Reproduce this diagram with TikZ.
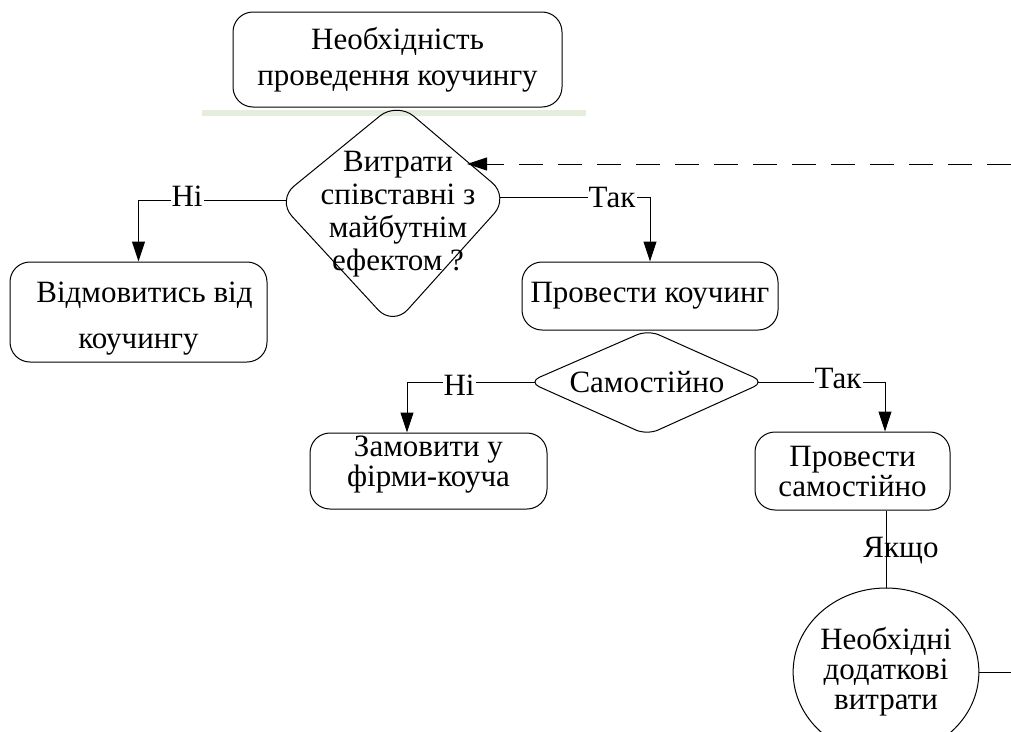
\documentclass[tikz,border=0pt]{standalone}
\usepackage{fontspec}
\setmainfont{Liberation Serif}
\usetikzlibrary{arrows.meta,shapes.geometric}
\definecolor{sepgreen}{HTML}{E5EDDD}
\tikzset{
    terminal/.style = {rectangle, rounded corners=20pt, draw=black, line width=1pt, inner sep=0pt, align=center, font=\fontsize{31}{36}\selectfont},
    costs/.style = {ellipse, draw=black, line width=1pt, inner sep=0pt, align=center, font=\fontsize{31}{36}\selectfont},
    decision/.style = {draw=black, line width=1pt},
    textonly/.style = {inner sep=0pt, align=center, font=\fontsize{31}{36}\selectfont},
    answer/.style = {fill=white, inner sep=1pt, font=\fontsize{31}{36}\selectfont},
    line/.style = {line width=1pt},
    arrow/.style = {line width=1pt, -{Triangle[length=20pt, width=13pt]}}
}

\begin{document}
\begin{tikzpicture}[x=1pt, y=-1pt]
\useasboundingbox (0,0) rectangle (1011,731);
\clip (0,0) rectangle (1011,731);

\fill [sepgreen] (202,110) rectangle (586,116);

% boxes
\node (need) [terminal, minimum width=329pt, minimum height=95pt] at (397.5,59.5) {Необхідність\\проведення коучингу};
\node (refuse) [terminal, minimum width=257pt, minimum height=100pt] at (138.5,312) {\rule{0pt}{34pt}\hspace{12pt}Відмовитись від\\[10pt]коучингу};
\node (coach) [terminal, minimum width=256pt, minimum height=68pt] at (650,296) {Провести коучинг};
\node (order) [terminal, minimum width=237pt, minimum height=76pt] at (428.5,471) {Замовити у\\[-6pt]фірми-коуча\rule[-19pt]{0pt}{0pt}};
\node (selfrun) [terminal, minimum width=195pt, minimum height=78pt] at (852.5,471) {Провести\\[-6pt]самостійно};
\node (extra) [costs, minimum width=163pt, minimum height=168pt] at (886,672) {Необхідні\\[-6pt]додаткові\\[-6pt]витрати};

% decisions
\coordinate (costn) at (397,102);
\coordinate (coste) at (509,197);
\coordinate (costs) at (393,326);
\coordinate (costw) at (277,200);
\draw [decision, rounded corners=22pt] (costn) -- (coste) -- (costs) -- (costw) -- cycle;
\node (cost) [textonly] at (398,214) {Витрати\\[-3pt]співставні з\\[-3pt]майбутнім\\[-3pt]ефектом ?};
\coordinate (costleft) at (287,200);
\coordinate (costright) at (500,197);
\coordinate (costin) at (467,164);

\coordinate (selfn) at (648,330);
\coordinate (selfe) at (764.5,382);
\coordinate (selfs) at (647,435);
\coordinate (selfw) at (528.5,382);
\draw [decision, rounded corners=12pt] (selfn) -- (selfe) -- (selfs) -- (selfw) -- cycle;
\node (self) [textonly] at (647,382) {Самостійно};
\coordinate (selfleft) at (535,382);
\coordinate (selfright) at (758,382);

\coordinate (back) at (1011,164);
\coordinate (out) at (1011,672);

% connectors
\draw [arrow, dash pattern=on 24pt off 15pt] (back) -- (costin);
\draw [arrow] (costleft) -| (refuse.north);
\draw [arrow] (costright) -| (coach.north);
\draw [arrow] (selfleft) -| ([xshift=-21.5pt]order.north);
\draw [arrow] (selfright) -| ([xshift=32.5pt]selfrun.north);
\draw [line] (selfrun.south -| extra.north) -- (extra.north);
\draw [line] (extra.east) -- (out);

% labels
\node (no1) [answer] at (187,196) {Ні};
\node (yes1) [answer] at (612,197) {Так};
\node (no2) [answer] at (459,385) {Ні};
\node (yes2) [answer] at (838,378) {Так};
\node (ifso) [textonly] at (901,551) {Якщо};
\end{tikzpicture}
\end{document}
